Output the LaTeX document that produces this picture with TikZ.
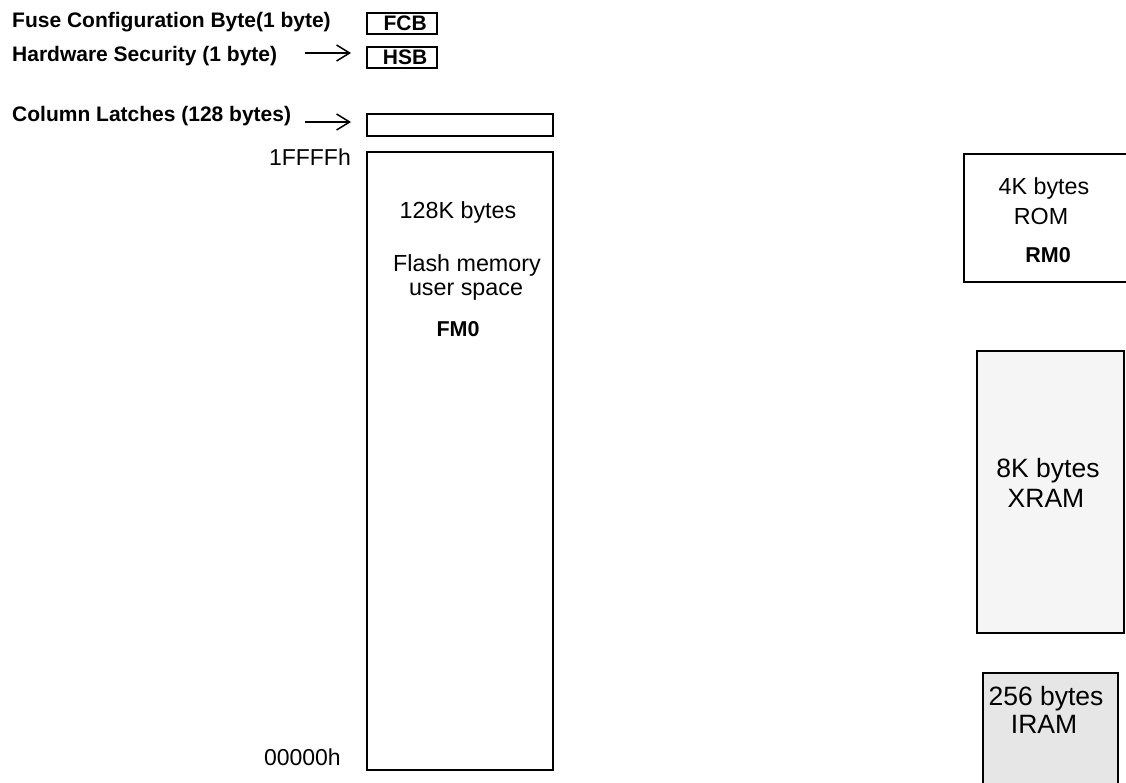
\documentclass[tikz,border=0pt]{standalone}
\usepackage{fontspec}
\setmainfont{Liberation Sans}
\usepackage{xcolor}
\definecolor{xramgray}{RGB}{245,245,245}
\definecolor{iramgray}{RGB}{230,230,230}
\usetikzlibrary{arrows.meta,positioning}

\begin{document}
\begin{tikzpicture}[x=1pt, y=-1pt,
    membox/.style={rectangle, draw=black, line width=2.2pt, inner sep=0pt},
    smallbox/.style={membox, minimum width=70, minimum height=21,
                     font=\fontsize{21}{24}\selectfont\bfseries},
    lbl/.style={inner sep=0pt, anchor=base west, font=\fontsize{21}{24}\selectfont\bfseries},
    addr/.style={inner sep=0pt, anchor=base east, font=\fontsize{23}{27}\selectfont},
    txt/.style={inner sep=0pt, anchor=base, font=\fontsize{23.3}{27}\selectfont},
    btxt/.style={inner sep=0pt, anchor=base, font=\fontsize{21.5}{25}\selectfont\bfseries},
    bigtxt/.style={inner sep=0pt, anchor=base, font=\fontsize{26.5}{30}\selectfont},
    arr/.style={-{Straight Barb[length=13pt, width=16pt]}, line width=1.5pt, shorten >=15pt}
  ]
    \useasboundingbox (0,0) rectangle (1126,783);
    \clip (0,0) rectangle (1126,783);

    % Fuse bytes
    \node[lbl] (fcblbl) at (12,28) {Fuse Configuration Byte(1 byte)};
    \node[lbl] (hsblbl) at (12,62) {Hardware Security (1 byte)};
    \node[smallbox, anchor=north west] (fcb) at (366,12) {\hspace{6pt}FCB};
    \node[smallbox, anchor=north west] (hsb) at (366,46) {\hspace{6pt}HSB};
    \coordinate (hsbarr) at (305,53);
    \draw[arr] (hsbarr) -- (hsb.west |- hsbarr);

    % Column latches
    \node[lbl] (collbl) at (12,122) {Column Latches (128 bytes)};
    \node[membox, minimum width=186, minimum height=22, anchor=north west] (col) at (366,113) {};
    \coordinate (colarr) at (305,122);
    \draw[arr] (colarr) -- (col.west |- colarr);

    % Flash memory
    \node[membox, minimum width=186, minimum height=618, anchor=north west] (fm0) at (366,151) {};
    \node[addr] (top) at (351,166) {1FFFFh};
    \node[addr] (bot) at (341,765) {00000h};
    \node[txt] (fmsize) at (458,219) {128K bytes};
    \node[txt] (fmname) at (467,272) {Flash memory};
    \node[txt] (fmuser) at (466,296) {user space};
    \node[btxt] (fmid) at (458,336) {FM0};

    % ROM
    \node[membox, minimum width=180, minimum height=128, anchor=north west] (rm0) at (963,153) {};
    \node[txt] (rmsize) at (1044,195) {4K bytes};
    \node[txt] (rmname) at (1041,225) {ROM};
    \node[btxt] (rmid) at (1048,263) {RM0};

    % XRAM
    \node[membox, fill=xramgray, minimum width=147, minimum height=282, anchor=north west] (xram) at (976,350) {};
    \node[bigtxt] (xrsize) at (1048,477) {8K bytes};
    \node[bigtxt] (xrname) at (1046,507) {XRAM};

    % IRAM
    \node[membox, fill=iramgray, minimum width=135, minimum height=130, anchor=north west] (iram) at (982,672) {};
    \node[bigtxt] (irsize) at (1046,705) {256 bytes};
    \node[bigtxt] (irname) at (1044,733) {IRAM};
  \end{tikzpicture}
\end{document}
